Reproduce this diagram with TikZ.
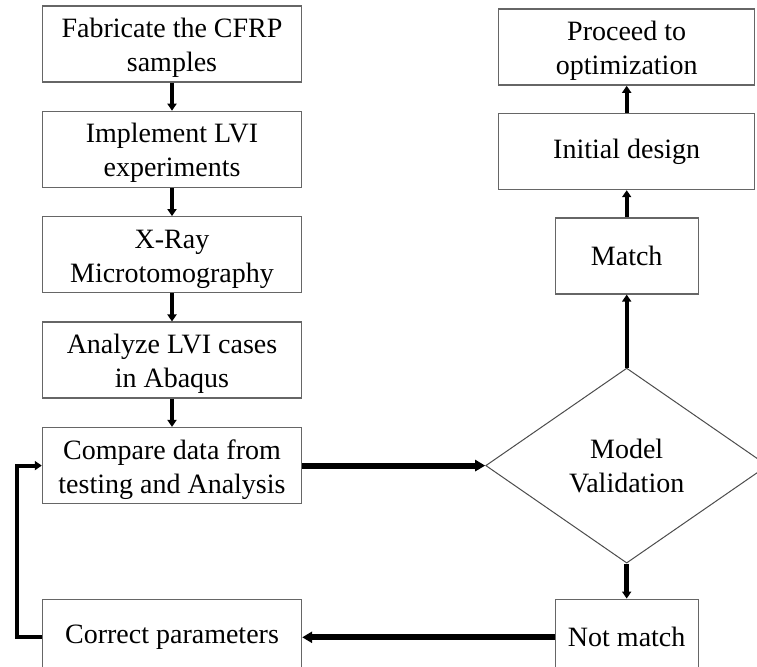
\documentclass[tikz,border=0pt]{standalone}
\usepackage{fontspec}
\setmainfont{Liberation Serif}
\usetikzlibrary{positioning}
\usetikzlibrary{arrows.meta}
\usetikzlibrary{shapes.geometric}

\begin{document}
\begin{tikzpicture}[x=0.5pt,y=-0.5pt,
	stepbox/.style={draw=black!60, line width=0.7pt, rectangle, align=center,
		minimum width=129.5pt, minimum height=38pt, inner sep=1pt,
		font=\fontsize{14pt}{17pt}\selectfont},
	twoline/.style={stepbox, text height=30.5pt},
	smallbox/.style={stepbox, minimum width=71.5pt},
	decision/.style={draw=black!70, line width=0.5pt, diamond, align=center,
		minimum width=141pt, minimum height=97.5pt, inner sep=0pt,
		font=\fontsize{14pt}{17pt}\selectfont},
	flow/.style={-{Triangle[width=4.5pt,length=3.5pt]}, line width=2pt},
	bigflow/.style={-{Triangle[width=5.5pt,length=5pt]}, line width=3pt}]
	\useasboundingbox (0,0) rectangle (757,667);
	\clip (0,0) rectangle (757,667);

	\node (fab) [twoline] at (172,44) {Fabricate the CFRP\\samples};
	\node (lvi) [twoline, below=14pt of fab] {Implement LVI\\experiments};
	\node (xray) [twoline, below=14pt of lvi] {X-Ray\\Microtomography};
	\node (abaqus) [twoline, below=14pt of xray] {Analyze LVI cases\\in Abaqus};
	\node (compare) [twoline, below=14pt of abaqus] {Compare data from\\testing and Analysis};
	\node (valid) [decision, right=91.5pt of compare] {Model\\Validation};
	\node (match) [smallbox, above=36.5pt of valid] {Match};
	\node (init) [stepbox, minimum width=128pt, above=13.5pt of match] {Initial design};
	\node (proceed) [twoline, minimum width=128pt, above=13.5pt of init] {Proceed to\\optimization};
	\node (nomatch) [smallbox, below=17.5pt of valid] {Not match};
	\node (correct) [stepbox] at (compare |- nomatch) {Correct parameters};

	\draw[flow] (fab) -- (lvi);
	\draw[flow] (lvi) -- (xray);
	\draw[flow] (xray) -- (abaqus);
	\draw[flow] (abaqus) -- (compare);
	\draw[bigflow] (compare) -- (valid);
	\draw[flow] (valid) -- (match);
	\draw[flow] (match) -- (init);
	\draw[flow] (init) -- (proceed);
	\draw[flow, line width=2.5pt] (valid) -- (nomatch);
	\draw[bigflow] (nomatch) -- (correct);
	\draw[flow] (correct.west) -- ++(-12.5pt,0) |- (compare.west);
\end{tikzpicture}
\end{document}
